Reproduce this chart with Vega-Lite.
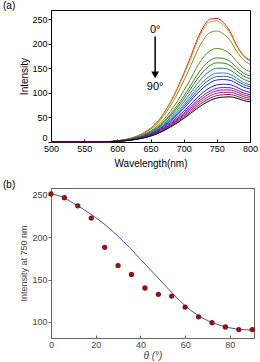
{
  "$schema": "https://vega.github.io/schema/vega-lite/v6.json",
  "padding": {"left": 2, "top": 0, "right": 2, "bottom": 2},
  "spacing": 10,
  "config": {
    "font": "Liberation Sans",
    "view": {"stroke": "#000"},
    "axis": {"grid": false, "labelOverlap": false, "labelFlush": false, "labelFontSize": 9, "titleFontSize": 10, "titleFontWeight": "normal", "domainColor": "#000", "tickColor": "#000", "labelColor": "#222", "titleColor": "#222"}
  },
  "vconcat": [
    {
      "width": 199,
      "height": 132,
      "title": {"text": "(a)", "anchor": "start", "frame": "bounds", "fontSize": 10, "fontWeight": "normal", "color": "#000", "offset": -1, "dx": -17},
      "layer": [
        {
          "data": {"values": [
            {"theta":0,"wl":500,"I":0},{"theta":0,"wl":550,"I":0},{"theta":0,"wl":580,"I":0.5},{"theta":0,"wl":600,"I":2.5},{"theta":0,"wl":620,"I":7.6},{"theta":0,"wl":640,"I":19},{"theta":0,"wl":660,"I":40.5},{"theta":0,"wl":680,"I":81},{"theta":0,"wl":700,"I":139},{"theta":0,"wl":710,"I":172},{"theta":0,"wl":720,"I":207.5},{"theta":0,"wl":730,"I":235},{"theta":0,"wl":740,"I":250.5},{"theta":0,"wl":750,"I":252},{"theta":0,"wl":760,"I":243},{"theta":0,"wl":770,"I":225},{"theta":0,"wl":780,"I":197},{"theta":0,"wl":790,"I":177},{"theta":0,"wl":800,"I":167},
            {"theta":6,"wl":500,"I":0},{"theta":6,"wl":550,"I":0},{"theta":6,"wl":580,"I":0.5},{"theta":6,"wl":600,"I":2.5},{"theta":6,"wl":620,"I":7.4},{"theta":6,"wl":640,"I":18.6},{"theta":6,"wl":660,"I":39.8},{"theta":6,"wl":680,"I":79.4},{"theta":6,"wl":700,"I":136},{"theta":6,"wl":710,"I":168},{"theta":6,"wl":720,"I":203},{"theta":6,"wl":730,"I":230},{"theta":6,"wl":740,"I":245},{"theta":6,"wl":750,"I":246.6},{"theta":6,"wl":760,"I":238},{"theta":6,"wl":770,"I":221.5},{"theta":6,"wl":780,"I":195},{"theta":6,"wl":790,"I":175},{"theta":6,"wl":800,"I":165},
            {"theta":12,"wl":500,"I":0},{"theta":12,"wl":550,"I":0},{"theta":12,"wl":580,"I":0.5},{"theta":12,"wl":600,"I":2.5},{"theta":12,"wl":620,"I":7.2},{"theta":12,"wl":640,"I":17.6},{"theta":12,"wl":660,"I":37.2},{"theta":12,"wl":680,"I":73.3},{"theta":12,"wl":700,"I":124.3},{"theta":12,"wl":710,"I":153.3},{"theta":12,"wl":720,"I":184.1},{"theta":12,"wl":730,"I":208.8},{"theta":12,"wl":740,"I":223.3},{"theta":12,"wl":750,"I":226.2},{"theta":12,"wl":760,"I":220.1},{"theta":12,"wl":770,"I":206.8},{"theta":12,"wl":780,"I":184.6},{"theta":12,"wl":790,"I":167.4},{"theta":12,"wl":800,"I":158.6},
            {"theta":18,"wl":500,"I":0},{"theta":18,"wl":550,"I":0},{"theta":18,"wl":580,"I":0.5},{"theta":18,"wl":600,"I":2.3},{"theta":18,"wl":620,"I":6.5},{"theta":18,"wl":640,"I":15.6},{"theta":18,"wl":660,"I":32.3},{"theta":18,"wl":680,"I":62.5},{"theta":18,"wl":700,"I":104},{"theta":18,"wl":710,"I":127.7},{"theta":18,"wl":720,"I":152.5},{"theta":18,"wl":730,"I":173.1},{"theta":18,"wl":740,"I":186.1},{"theta":18,"wl":750,"I":190.6},{"theta":18,"wl":760,"I":187.8},{"theta":18,"wl":770,"I":179.6},{"theta":18,"wl":780,"I":164.1},{"theta":18,"wl":790,"I":150.8},{"theta":18,"wl":800,"I":143.8},
            {"theta":24,"wl":500,"I":0},{"theta":24,"wl":550,"I":0},{"theta":24,"wl":580,"I":0.4},{"theta":24,"wl":600,"I":2.2},{"theta":24,"wl":620,"I":6.1},{"theta":24,"wl":640,"I":14.3},{"theta":24,"wl":660,"I":29.5},{"theta":24,"wl":680,"I":56.5},{"theta":24,"wl":700,"I":93.1},{"theta":24,"wl":710,"I":114.1},{"theta":24,"wl":720,"I":135.9},{"theta":24,"wl":730,"I":154.1},{"theta":24,"wl":740,"I":166.3},{"theta":24,"wl":750,"I":171.4},{"theta":24,"wl":760,"I":170},{"theta":24,"wl":770,"I":164.2},{"theta":24,"wl":780,"I":151.9},{"theta":24,"wl":790,"I":140.6},{"theta":24,"wl":800,"I":134.5},
            {"theta":30,"wl":500,"I":0},{"theta":30,"wl":550,"I":0},{"theta":30,"wl":580,"I":0.4},{"theta":30,"wl":600,"I":2.1},{"theta":30,"wl":620,"I":5.8},{"theta":30,"wl":640,"I":13.7},{"theta":30,"wl":660,"I":28},{"theta":30,"wl":680,"I":53.4},{"theta":30,"wl":700,"I":87.5},{"theta":30,"wl":710,"I":107},{"theta":30,"wl":720,"I":127.3},{"theta":30,"wl":730,"I":144.4},{"theta":30,"wl":740,"I":156},{"theta":30,"wl":750,"I":161.4},{"theta":30,"wl":760,"I":160.6},{"theta":30,"wl":770,"I":155.9},{"theta":30,"wl":780,"I":145.1},{"theta":30,"wl":790,"I":134.6},{"theta":30,"wl":800,"I":129},
            {"theta":36,"wl":500,"I":0},{"theta":36,"wl":550,"I":0},{"theta":36,"wl":580,"I":0.4},{"theta":36,"wl":600,"I":2},{"theta":36,"wl":620,"I":5.5},{"theta":36,"wl":640,"I":12.9},{"theta":36,"wl":660,"I":26.4},{"theta":36,"wl":680,"I":49.9},{"theta":36,"wl":700,"I":81.3},{"theta":36,"wl":710,"I":99.3},{"theta":36,"wl":720,"I":117.9},{"theta":36,"wl":730,"I":133.8},{"theta":36,"wl":740,"I":144.8},{"theta":36,"wl":750,"I":150.3},{"theta":36,"wl":760,"I":150.2},{"theta":36,"wl":770,"I":146.6},{"theta":36,"wl":780,"I":137.4},{"theta":36,"wl":790,"I":128},{"theta":36,"wl":800,"I":122.8},
            {"theta":42,"wl":500,"I":0},{"theta":42,"wl":550,"I":0},{"theta":42,"wl":580,"I":0.4},{"theta":42,"wl":600,"I":1.9},{"theta":42,"wl":620,"I":5.3},{"theta":42,"wl":640,"I":12.2},{"theta":42,"wl":660,"I":24.8},{"theta":42,"wl":680,"I":46.7},{"theta":42,"wl":700,"I":75.7},{"theta":42,"wl":710,"I":92.4},{"theta":42,"wl":720,"I":109.5},{"theta":42,"wl":730,"I":124.2},{"theta":42,"wl":740,"I":134.8},{"theta":42,"wl":750,"I":140.3},{"theta":42,"wl":760,"I":140.7},{"theta":42,"wl":770,"I":138},{"theta":42,"wl":780,"I":130},{"theta":42,"wl":790,"I":121.5},{"theta":42,"wl":800,"I":116.7},
            {"theta":48,"wl":500,"I":0},{"theta":48,"wl":550,"I":0},{"theta":48,"wl":580,"I":0.4},{"theta":48,"wl":600,"I":1.9},{"theta":48,"wl":620,"I":5.1},{"theta":48,"wl":640,"I":11.7},{"theta":48,"wl":660,"I":23.7},{"theta":48,"wl":680,"I":44.5},{"theta":48,"wl":700,"I":71.8},{"theta":48,"wl":710,"I":87.5},{"theta":48,"wl":720,"I":103.6},{"theta":48,"wl":730,"I":117.5},{"theta":48,"wl":740,"I":127.7},{"theta":48,"wl":750,"I":133.3},{"theta":48,"wl":760,"I":134},{"theta":48,"wl":770,"I":132},{"theta":48,"wl":780,"I":124.9},{"theta":48,"wl":790,"I":117},{"theta":48,"wl":800,"I":112.6},
            {"theta":54,"wl":500,"I":0},{"theta":54,"wl":550,"I":0},{"theta":54,"wl":580,"I":0.4},{"theta":54,"wl":600,"I":1.8},{"theta":54,"wl":620,"I":4.9},{"theta":54,"wl":640,"I":11.2},{"theta":54,"wl":660,"I":22.6},{"theta":54,"wl":680,"I":42.3},{"theta":54,"wl":700,"I":68},{"theta":54,"wl":710,"I":82.8},{"theta":54,"wl":720,"I":97.8},{"theta":54,"wl":730,"I":111},{"theta":54,"wl":740,"I":120.8},{"theta":54,"wl":750,"I":126.4},{"theta":54,"wl":760,"I":127.3},{"theta":54,"wl":770,"I":125.7},{"theta":54,"wl":780,"I":119.5},{"theta":54,"wl":790,"I":112.2},{"theta":54,"wl":800,"I":108},
            {"theta":60,"wl":500,"I":0},{"theta":60,"wl":550,"I":0},{"theta":60,"wl":580,"I":0.3},{"theta":60,"wl":600,"I":1.7},{"theta":60,"wl":620,"I":4.6},{"theta":60,"wl":640,"I":10.4},{"theta":60,"wl":660,"I":21},{"theta":60,"wl":680,"I":39.1},{"theta":60,"wl":700,"I":62.5},{"theta":60,"wl":710,"I":76},{"theta":60,"wl":720,"I":89.7},{"theta":60,"wl":730,"I":101.8},{"theta":60,"wl":740,"I":110.9},{"theta":60,"wl":750,"I":116.4},{"theta":60,"wl":760,"I":117.7},{"theta":60,"wl":770,"I":116.8},{"theta":60,"wl":780,"I":111.6},{"theta":60,"wl":790,"I":105},{"theta":60,"wl":800,"I":101.3},
            {"theta":66,"wl":500,"I":0},{"theta":66,"wl":550,"I":0},{"theta":66,"wl":580,"I":0.3},{"theta":66,"wl":600,"I":1.6},{"theta":66,"wl":620,"I":4.3},{"theta":66,"wl":640,"I":9.9},{"theta":66,"wl":660,"I":19.9},{"theta":66,"wl":680,"I":36.8},{"theta":66,"wl":700,"I":58.6},{"theta":66,"wl":710,"I":71.2},{"theta":66,"wl":720,"I":84},{"theta":66,"wl":730,"I":95.3},{"theta":66,"wl":740,"I":104},{"theta":66,"wl":750,"I":109.5},{"theta":66,"wl":760,"I":111},{"theta":66,"wl":770,"I":110.5},{"theta":66,"wl":780,"I":106.1},{"theta":66,"wl":790,"I":100.1},{"theta":66,"wl":800,"I":96.6},
            {"theta":72,"wl":500,"I":0},{"theta":72,"wl":550,"I":0},{"theta":72,"wl":580,"I":0.3},{"theta":72,"wl":600,"I":1.6},{"theta":72,"wl":620,"I":4.2},{"theta":72,"wl":640,"I":9.5},{"theta":72,"wl":660,"I":19.1},{"theta":72,"wl":680,"I":35.2},{"theta":72,"wl":700,"I":55.9},{"theta":72,"wl":710,"I":67.9},{"theta":72,"wl":720,"I":80},{"theta":72,"wl":730,"I":90.7},{"theta":72,"wl":740,"I":99.1},{"theta":72,"wl":750,"I":104.5},{"theta":72,"wl":760,"I":106.1},{"theta":72,"wl":770,"I":105.9},{"theta":72,"wl":780,"I":102},{"theta":72,"wl":790,"I":96.3},{"theta":72,"wl":800,"I":93},
            {"theta":78,"wl":500,"I":0},{"theta":78,"wl":550,"I":0},{"theta":78,"wl":580,"I":0.3},{"theta":78,"wl":600,"I":1.5},{"theta":78,"wl":620,"I":4},{"theta":78,"wl":640,"I":9.1},{"theta":78,"wl":660,"I":18.2},{"theta":78,"wl":680,"I":33.6},{"theta":78,"wl":700,"I":53.2},{"theta":78,"wl":710,"I":64.6},{"theta":78,"wl":720,"I":76},{"theta":78,"wl":730,"I":86.2},{"theta":78,"wl":740,"I":94.3},{"theta":78,"wl":750,"I":99.6},{"theta":78,"wl":760,"I":101.3},{"theta":78,"wl":770,"I":101.3},{"theta":78,"wl":780,"I":97.8},{"theta":78,"wl":790,"I":92.5},{"theta":78,"wl":800,"I":89.4},
            {"theta":84,"wl":500,"I":0},{"theta":84,"wl":550,"I":0},{"theta":84,"wl":580,"I":0.3},{"theta":84,"wl":600,"I":1.4},{"theta":84,"wl":620,"I":3.9},{"theta":84,"wl":640,"I":8.7},{"theta":84,"wl":660,"I":17.4},{"theta":84,"wl":680,"I":32},{"theta":84,"wl":700,"I":50.5},{"theta":84,"wl":710,"I":61.3},{"theta":84,"wl":720,"I":72},{"theta":84,"wl":730,"I":81.7},{"theta":84,"wl":740,"I":89.4},{"theta":84,"wl":750,"I":94.6},{"theta":84,"wl":760,"I":96.4},{"theta":84,"wl":770,"I":96.7},{"theta":84,"wl":780,"I":93.5},{"theta":84,"wl":790,"I":88.6},{"theta":84,"wl":800,"I":85.7},
            {"theta":90,"wl":500,"I":0},{"theta":90,"wl":550,"I":0},{"theta":90,"wl":580,"I":0.3},{"theta":90,"wl":600,"I":1.4},{"theta":90,"wl":620,"I":3.7},{"theta":90,"wl":640,"I":8.3},{"theta":90,"wl":660,"I":16.6},{"theta":90,"wl":680,"I":30.4},{"theta":90,"wl":700,"I":47.8},{"theta":90,"wl":710,"I":58},{"theta":90,"wl":720,"I":68.1},{"theta":90,"wl":730,"I":77.3},{"theta":90,"wl":740,"I":84.6},{"theta":90,"wl":750,"I":89.7},{"theta":90,"wl":760,"I":91.5},{"theta":90,"wl":770,"I":92},{"theta":90,"wl":780,"I":89.2},{"theta":90,"wl":790,"I":84.6},{"theta":90,"wl":800,"I":81.9}
          ]},
          "mark": {"type": "line", "strokeWidth": 1, "interpolate": "monotone"},
          "encoding": {
            "x": {"field": "wl", "type": "quantitative", "scale": {"domain": [500, 800], "nice": false},
                  "axis": {"values": [500, 550, 600, 650, 700, 750, 800], "labelOverlap": false, "labelFlush": false, "title": "Wavelength(nm)", "tickSize": -3, "labelPadding": 5, "titlePadding": 5, "labelColor": "#000", "titleColor": "#000"}},
            "y": {"field": "I", "type": "quantitative", "scale": {"domain": [0, 269], "nice": false},
                  "axis": {"values": [0, 50, 100, 150, 200, 250], "labelOverlap": false, "labelFlush": true, "title": "Intensity", "tickSize": 3, "labelPadding": 1, "titlePadding": 2, "labelColor": "#000", "titleColor": "#000"}},
            "color": {"field": "theta", "type": "nominal", "legend": null,
                      "scale": {"domain": [0, 6, 12, 18, 24, 30, 36, 42, 48, 54, 60, 66, 72, 78, 84, 90],
                                "range": ["#e0201a", "#c8a035", "#8c8c1e", "#5a8a1e", "#3f801f", "#2e7d32", "#2a8055", "#3a7ab5", "#2555c8", "#1228cc", "#3a1ab0", "#6a1aa8", "#8a1a98", "#a01a80", "#a01040", "#000000"]}}
          }
        },
        {
          "data": {"values": [{}]},
          "mark": {"type": "rule", "strokeWidth": 1.5, "color": "#000"},
          "encoding": {
            "x": {"datum": 657, "type": "quantitative", "axis": {"values": [500, 550, 600, 650, 700, 750, 800], "labelOverlap": false, "labelFlush": false, "title": "Wavelength(nm)", "tickSize": -3, "labelPadding": 5, "titlePadding": 5, "labelColor": "#000", "titleColor": "#000"}},
            "y": {"datum": 215, "type": "quantitative", "axis": {"values": [0, 50, 100, 150, 200, 250], "labelOverlap": false, "labelFlush": true, "title": "Intensity", "tickSize": 3, "labelPadding": 1, "titlePadding": 2, "labelColor": "#000", "titleColor": "#000"}},
            "y2": {"datum": 142}
          }
        },
        {
          "data": {"values": [{}]},
          "mark": {"type": "point", "shape": "triangle-down", "filled": true, "color": "#000", "size": 60, "opacity": 1},
          "encoding": {
            "x": {"datum": 657, "type": "quantitative", "axis": {"values": [500, 550, 600, 650, 700, 750, 800], "labelOverlap": false, "labelFlush": false, "title": "Wavelength(nm)", "tickSize": -3, "labelPadding": 5, "titlePadding": 5, "labelColor": "#000", "titleColor": "#000"}},
            "y": {"datum": 137, "type": "quantitative", "axis": {"values": [0, 50, 100, 150, 200, 250], "labelOverlap": false, "labelFlush": true, "title": "Intensity", "tickSize": 3, "labelPadding": 1, "titlePadding": 2, "labelColor": "#000", "titleColor": "#000"}}
          }
        },
        {
          "data": {"values": [{}]},
          "mark": {"type": "text", "fontSize": 11, "color": "#000"},
          "encoding": {
            "x": {"datum": 657, "type": "quantitative", "axis": {"values": [500, 550, 600, 650, 700, 750, 800], "labelOverlap": false, "labelFlush": false, "title": "Wavelength(nm)", "tickSize": -3, "labelPadding": 5, "titlePadding": 5, "labelColor": "#000", "titleColor": "#000"}},
            "y": {"datum": 229, "type": "quantitative", "axis": {"values": [0, 50, 100, 150, 200, 250], "labelOverlap": false, "labelFlush": true, "title": "Intensity", "tickSize": 3, "labelPadding": 1, "titlePadding": 2, "labelColor": "#000", "titleColor": "#000"}},
            "text": {"value": "0°"}
          }
        },
        {
          "data": {"values": [{}]},
          "mark": {"type": "text", "fontSize": 11, "color": "#000"},
          "encoding": {
            "x": {"datum": 657, "type": "quantitative", "axis": {"values": [500, 550, 600, 650, 700, 750, 800], "labelOverlap": false, "labelFlush": false, "title": "Wavelength(nm)", "tickSize": -3, "labelPadding": 5, "titlePadding": 5, "labelColor": "#000", "titleColor": "#000"}},
            "y": {"datum": 112, "type": "quantitative", "axis": {"values": [0, 50, 100, 150, 200, 250], "labelOverlap": false, "labelFlush": true, "title": "Intensity", "tickSize": 3, "labelPadding": 1, "titlePadding": 2, "labelColor": "#000", "titleColor": "#000"}},
            "text": {"value": "90°"}
          }
        }
      ]
    },
    {
      "width": 203,
      "height": 150,
      "view": {"stroke": "#666"},
      "title": {"text": "(b)", "anchor": "start", "frame": "bounds", "fontSize": 10, "fontWeight": "normal", "color": "#000", "offset": -2, "dx": -17},
      "layer": [
        {
          "data": {"values": [
            {"theta":0,"fit":251},{"theta":5,"fit":247.5},{"theta":10,"fit":240},{"theta":15,"fit":232},{"theta":20,"fit":223},{"theta":25,"fit":213},{"theta":30,"fit":201},{"theta":35,"fit":188},{"theta":40,"fit":174},{"theta":45,"fit":160},{"theta":50,"fit":146},{"theta":55,"fit":132},{"theta":60,"fit":119},{"theta":65,"fit":109},{"theta":70,"fit":101.5},{"theta":75,"fit":96.5},{"theta":80,"fit":93},{"theta":85,"fit":91},{"theta":90,"fit":90.5}
          ]},
          "mark": {"type": "line", "color": "#3a55b0", "strokeWidth": 1, "interpolate": "monotone"},
          "encoding": {
            "x": {"field": "theta", "type": "quantitative", "scale": {"domain": [0, 90.8], "nice": false},
                  "axis": {"values": [0, 20, 40, 60, 80], "labelOverlap": false, "labelFlush": false, "title": "θ (°)", "titleFontStyle": "italic", "tickSize": -3, "labelPadding": 5, "titlePadding": 1, "domainColor": "#666", "tickColor": "#666", "labelColor": "#444", "titleColor": "#444"}},
            "y": {"field": "fit", "type": "quantitative", "scale": {"domain": [81, 258], "nice": false},
                  "axis": {"values": [100, 150, 200, 250], "labelOverlap": false, "title": "Intensity at 750 nm", "titleFontSize": 9, "tickSize": 3, "labelPadding": 1, "titlePadding": 3, "domainColor": "#666", "tickColor": "#666", "labelColor": "#444", "titleColor": "#444"}}
          }
        },
        {
          "data": {"values": [
            {"theta":0,"I":251},{"theta":6,"I":246.5},{"theta":12,"I":237},{"theta":18,"I":222.5},{"theta":24,"I":188},{"theta":30,"I":166.5},{"theta":36,"I":156},{"theta":42,"I":140},{"theta":48,"I":132.5},{"theta":54,"I":130.5},{"theta":60,"I":117.5},{"theta":66,"I":106},{"theta":72,"I":99},{"theta":78,"I":94},{"theta":84,"I":91},{"theta":90,"I":91}
          ]},
          "mark": {"type": "circle", "size": 28, "color": "#8b1414", "opacity": 1},
          "encoding": {
            "x": {"field": "theta", "type": "quantitative"},
            "y": {"field": "I", "type": "quantitative"}
          }
        }
      ]
    }
  ]
}
